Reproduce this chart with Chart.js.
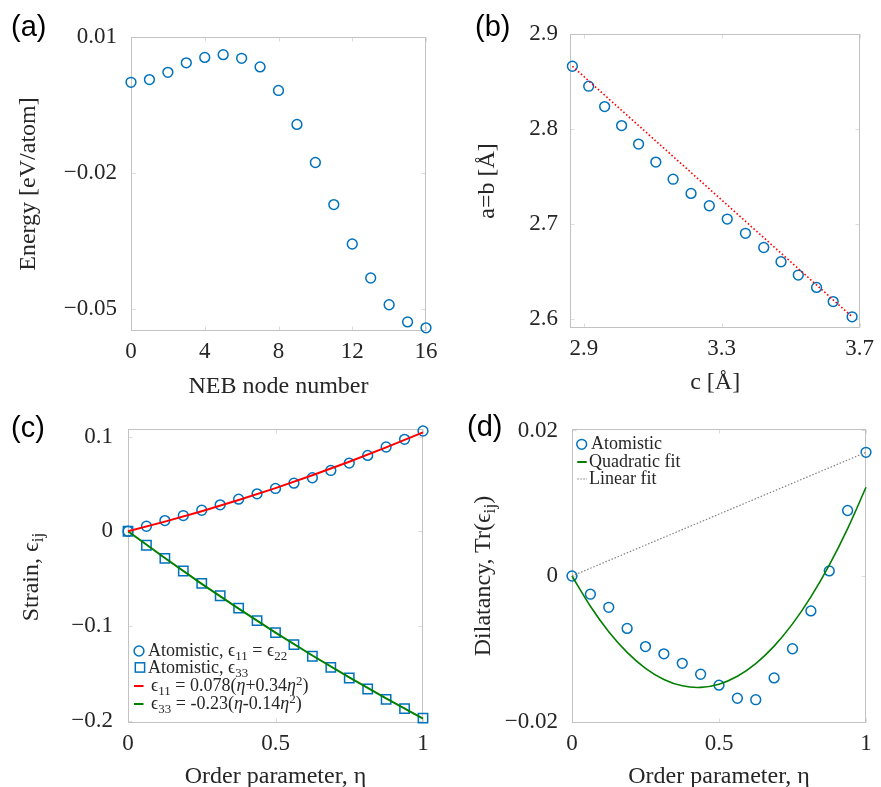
<!DOCTYPE html>
<html><head><meta charset="utf-8">
<script src="https://cdn.jsdelivr.net/npm/chart.js@4.4.1/dist/chart.umd.min.js"></script>
<style>
html,body{margin:0;padding:0;width:881px;height:787px;overflow:hidden;background:#fff;}
canvas{position:absolute;left:0;top:0;}
.pl{position:absolute;font-family:"Liberation Sans",Arial,sans-serif;font-size:29px;line-height:29px;color:#000;}
.yt{position:absolute;font-family:"Liberation Serif","Times New Roman",serif;font-size:24px;line-height:24px;color:#262626;white-space:nowrap;transform:translate(-50%,-50%) rotate(-90deg);}
.lg{position:absolute;font-family:"Liberation Serif","Times New Roman",serif;font-size:18px;line-height:18px;color:#262626;white-space:nowrap;}
sub{font-size:0.72em;vertical-align:-0.3em;line-height:0;}
sup{font-size:0.72em;vertical-align:0.5em;line-height:0;}
#mk{position:absolute;left:0;top:0;}
</style></head><body>
<canvas id="cA" width="881" height="800"></canvas>
<canvas id="cB" width="881" height="800"></canvas>
<canvas id="cC" width="881" height="800"></canvas>
<canvas id="cD" width="881" height="800"></canvas>

<div class="pl" style="left:11px;top:12px;">(a)</div>
<div class="pl" style="left:475px;top:12px;">(b)</div>
<div class="pl" style="left:11px;top:413px;">(c)</div>
<div class="pl" style="left:467px;top:412px;">(d)</div>

<div class="yt" style="left:30px;top:577px;">Strain, ϵ<sub>ij</sub></div>
<div class="yt" style="left:482px;top:576px;">Dilatancy, Tr(ϵ<sub>ij</sub>)</div>

<svg id="mk" width="881" height="787">
  <circle cx="139" cy="651" r="4.9" fill="none" stroke="#0072BD" stroke-width="1.5"/>
  <rect x="135.3" y="662.8" width="9.3" height="9.3" fill="none" stroke="#0072BD" stroke-width="1.5"/>
  <line x1="134" y1="686" x2="143.5" y2="686" stroke="#ff0000" stroke-width="2"/>
  <line x1="134" y1="704" x2="143.5" y2="704" stroke="#007F00" stroke-width="2"/>
  <circle cx="581.7" cy="444.3" r="4.9" fill="none" stroke="#0072BD" stroke-width="1.5"/>
  <line x1="577.3" y1="462" x2="586.7" y2="462" stroke="#007F00" stroke-width="2"/>
  <line x1="577.3" y1="479" x2="587" y2="479" stroke="#808080" stroke-width="1.2" stroke-dasharray="1.5,1.5"/>
</svg>

<div class="lg" style="left:148px;top:641px;">Atomistic, ϵ<sub>11</sub> = ϵ<sub>22</sub></div>
<div class="lg" style="left:148px;top:658px;">Atomistic, ϵ<sub>33</sub></div>
<div class="lg" style="left:151px;top:676px;">ϵ<sub>11</sub> = 0.078(<i>η</i>+0.34<i>η</i><sup>2</sup>)</div>
<div class="lg" style="left:151px;top:694px;">ϵ<sub>33</sub> = -0.23(<i>η</i>-0.14<i>η</i><sup>2</sup>)</div>
<div class="lg" style="left:591px;top:434px;">Atomistic</div>
<div class="lg" style="left:589px;top:452px;">Quadratic fit</div>
<div class="lg" style="left:589px;top:469px;">Linear fit</div>

<script>
// ---------- DATA ----------
// (a) NEB energy path
const nebNode = [0,1,2,3,4,5,6,7,8,9,10,11,12,13,14,15,16];
const nebEnergy = [0.0000,0.0006,0.0022,0.0043,0.0055,0.0061,0.0053,0.0034,-0.0018,-0.0093,-0.0177,-0.0270,-0.0357,-0.0432,-0.0491,-0.0529,-0.0542];
const aXTicks = [0,4,8,12,16];
const aXLabels = ['0','4','8','12','16'];
const aYTicks = [-0.05,-0.02,0.01];
const aYLabels = ['\u22120.05','\u22120.02','0.01'];

// (b) lattice parameters
const latticeC = [2.8669,2.9142,2.9605,3.0097,3.0589,3.1090,3.1591,3.2111,3.2641,3.3161,3.3690,3.4220,3.4721,3.5222,3.5752,3.6234,3.6783];
const latticeAB = [2.866,2.845,2.8235,2.8035,2.784,2.765,2.747,2.732,2.719,2.705,2.690,2.675,2.660,2.646,2.633,2.618,2.602];
const bLineC = [2.8669,3.6783];
const bLineAB = [2.866,2.602];
const bXTicks = [2.9,3.3,3.7];
const bXLabels = ['2.9','3.3','3.7'];
const bYTicks = [2.6,2.7,2.8,2.9];
const bYLabels = ['2.6','2.7','2.8','2.9'];

// (c) strain vs order parameter
const eta = [0,0.0625,0.125,0.1875,0.25,0.3125,0.375,0.4375,0.5,0.5625,0.625,0.6875,0.75,0.8125,0.875,0.9375,1];
const strain11 = [0,0.0053,0.0113,0.0166,0.0222,0.0279,0.0339,0.0395,0.0452,0.0508,0.0565,0.0642,0.0720,0.0801,0.0890,0.0971,0.1059];
const strain33 = [0,-0.0148,-0.0286,-0.0420,-0.0551,-0.0681,-0.0812,-0.0943,-0.1070,-0.1197,-0.1320,-0.1437,-0.1550,-0.1666,-0.1776,-0.1874,-0.1973];
const etaFit = [0,0.125,0.25,0.375,0.5,0.625,0.75,0.875,1];
const fit11 = [0,0.0102,0.0212,0.0330,0.0456,0.0591,0.0734,0.0886,0.1045];
const fit33 = [0,-0.0283,-0.0555,-0.0817,-0.1070,-0.1312,-0.1544,-0.1766,-0.1978];
const cXTicks = [0,0.5,1];
const cXLabels = ['0','0.5','1'];
const cYTicks = [-0.2,-0.1,0,0.1];
const cYLabels = ['\u22120.2','\u22120.1','0','0.1'];

// (d) dilatancy
const dilatancy = [0,-0.0025,-0.0043,-0.0072,-0.0097,-0.0107,-0.0120,-0.0135,-0.0150,-0.0168,-0.0170,-0.0140,-0.0100,-0.0048,0.0007,0.0090,0.0170];
const quadFit = [0,-0.00415,-0.00765,-0.01049,-0.01268,-0.01421,-0.01509,-0.01531,-0.01488,-0.01378,-0.01204,-0.00964,-0.00658,-0.00287,0.0015,0.00652,0.0122];
const linEta = [0,1];
const linFit = [0,0.0170];
const dXTicks = [0,0.5,1];
const dXLabels = ['0','0.5','1'];
const dYTicks = [-0.02,0,0.02];
const dYLabels = ['\u22120.02','0','0.02'];

// ---------- HELPERS ----------
const SERIF = "'Liberation Serif','Times New Roman',serif";
const INK = '#262626';
const BLUE = '#0072BD';
function pts(xs, ys){ return xs.map((x,i)=>({x:x, y:ys[i]})); }

function axis(o){
  return {
    type:'linear', min:o.min, max:o.max, bounds:'data',
    afterBuildTicks: s => { s.ticks = o.ticks.map(v=>({value:v})); },
    afterFit: s => { if (o.horizontal) s.height = o.size; else s.width = o.size; },
    ticks: {
      autoSkip:false, maxRotation:0, minRotation:0, padding:o.pad, color:INK,
      font:{family:SERIF, size:23},
      callback: v => { const i = o.ticks.findIndex(t=>Math.abs(t-v)<1e-9); return i>=0 ? o.labels[i] : ''; }
    },
    grid:{display:false, drawTicks:false},
    border:{display:false},
    title: o.title ? {display:true, text:o.title, color:INK, font:{family:SERIF, size:24}, padding:0} : {display:false}
  };
}

const boxPlugin = {
  id:'box',
  beforeDatasetsDraw(chart){
    const {ctx, chartArea:a, scales} = chart;
    const L = Math.round(a.left)+0.5, R = Math.round(a.right)-0.5, T = Math.round(a.top)+0.5, B = Math.round(a.bottom)-0.5;
    ctx.save();
    ctx.lineWidth = 1;
    ctx.beginPath();
    scales.x.ticks.forEach(t=>{
      const x = Math.round(scales.x.getPixelForValue(t.value))+0.5;
      ctx.moveTo(x,B); ctx.lineTo(x,B-4); ctx.moveTo(x,T); ctx.lineTo(x,T+4);
    });
    scales.y.ticks.forEach(t=>{
      const y = Math.round(scales.y.getPixelForValue(t.value))+0.5;
      ctx.moveTo(L,y); ctx.lineTo(L+4,y); ctx.moveTo(R,y); ctx.lineTo(R-4,y);
    });
    ctx.strokeStyle = '#dcdcdc';
    ctx.stroke();
    ctx.strokeStyle = '#c2c2c2';
    ctx.strokeRect(L, T, R-L, B-T);
    ctx.restore();
  }
};

function circles(xs, ys){
  return {data:pts(xs,ys), showLine:false, pointStyle:'circle', pointRadius:4.9, pointBorderWidth:1.5,
    borderColor:BLUE, pointBorderColor:BLUE, backgroundColor:'rgba(0,0,0,0)', pointBackgroundColor:'rgba(0,0,0,0)', clip:false};
}
function squares(xs, ys){
  return {data:pts(xs,ys), showLine:false, pointStyle:'rect', pointRadius:6.6, pointBorderWidth:1.5,
    borderColor:BLUE, pointBorderColor:BLUE, backgroundColor:'rgba(0,0,0,0)', pointBackgroundColor:'rgba(0,0,0,0)', clip:false};
}
function line(xs, ys, color, width, dash, tension){
  return {data:pts(xs,ys), showLine:true, pointRadius:0, borderColor:color, borderWidth:width,
    borderDash:dash||[], tension:tension||0, fill:false, clip:false};
}

function makeChart(id, datasets, xAx, yAx, padding){
  return new Chart(document.getElementById(id), {
    type:'scatter',
    data:{datasets:datasets},
    options:{
      responsive:false, animation:false, devicePixelRatio:1, events:[],
      layout:{padding:padding},
      plugins:{legend:{display:false}, tooltip:{enabled:false}},
      scales:{x:xAx, y:yAx}
    },
    plugins:[boxPlugin]
  });
}

// (a)
makeChart('cA',
  [circles(nebNode, nebEnergy)],
  axis({min:0, max:16, ticks:aXTicks, labels:aXLabels, title:'NEB node number', horizontal:true, size:70, pad:7}),
  axis({min:-0.0549, max:0.01, ticks:aYTicks, labels:aYLabels, title:'Energy [eV/atom]', size:117, pad:14}),
  {left:14, right:455, top:37, bottom:399});

// (b)
makeChart('cB',
  [line(bLineC, bLineAB, '#ff0000', 1.6, [1.6,2.2]), circles(latticeC, latticeAB)],
  axis({min:2.860, max:3.702, ticks:bXTicks, labels:bXLabels, title:'c [Å]', horizontal:true, size:69, pad:7}),
  axis({min:2.5902, max:2.9, ticks:bYTicks, labels:bYLabels, title:'a=b [Å]', size:97, pad:12}),
  {left:473, right:15, top:34, bottom:403});

// (c)
makeChart('cC',
  [line(etaFit, fit11, '#ff0000', 2), line(etaFit, fit33, '#007F00', 2), circles(eta, strain11), squares(eta, strain33)],
  axis({min:0, max:1, ticks:cXTicks, labels:cXLabels, title:'Order parameter, η', horizontal:true, size:68, pad:7}),
  axis({min:-0.2025, max:0.108, ticks:cYTicks, labels:cYLabels, title:null, size:100, pad:15}),
  {left:28, right:458, top:429, bottom:9});

// (d)
makeChart('cD',
  [line(linEta, linFit, '#808080', 1.2, [1.5,1.8]), line(eta, quadFit, '#007F00', 1.6, [], 0.4), circles(eta, dilatancy)],
  axis({min:0, max:1, ticks:dXTicks, labels:dXLabels, title:'Order parameter, η', horizontal:true, size:68, pad:7}),
  axis({min:-0.0202, max:0.0202, ticks:dYTicks, labels:dYLabels, title:null, size:100, pad:14}),
  {left:472, right:15, top:429, bottom:9});
</script>
</body></html>
